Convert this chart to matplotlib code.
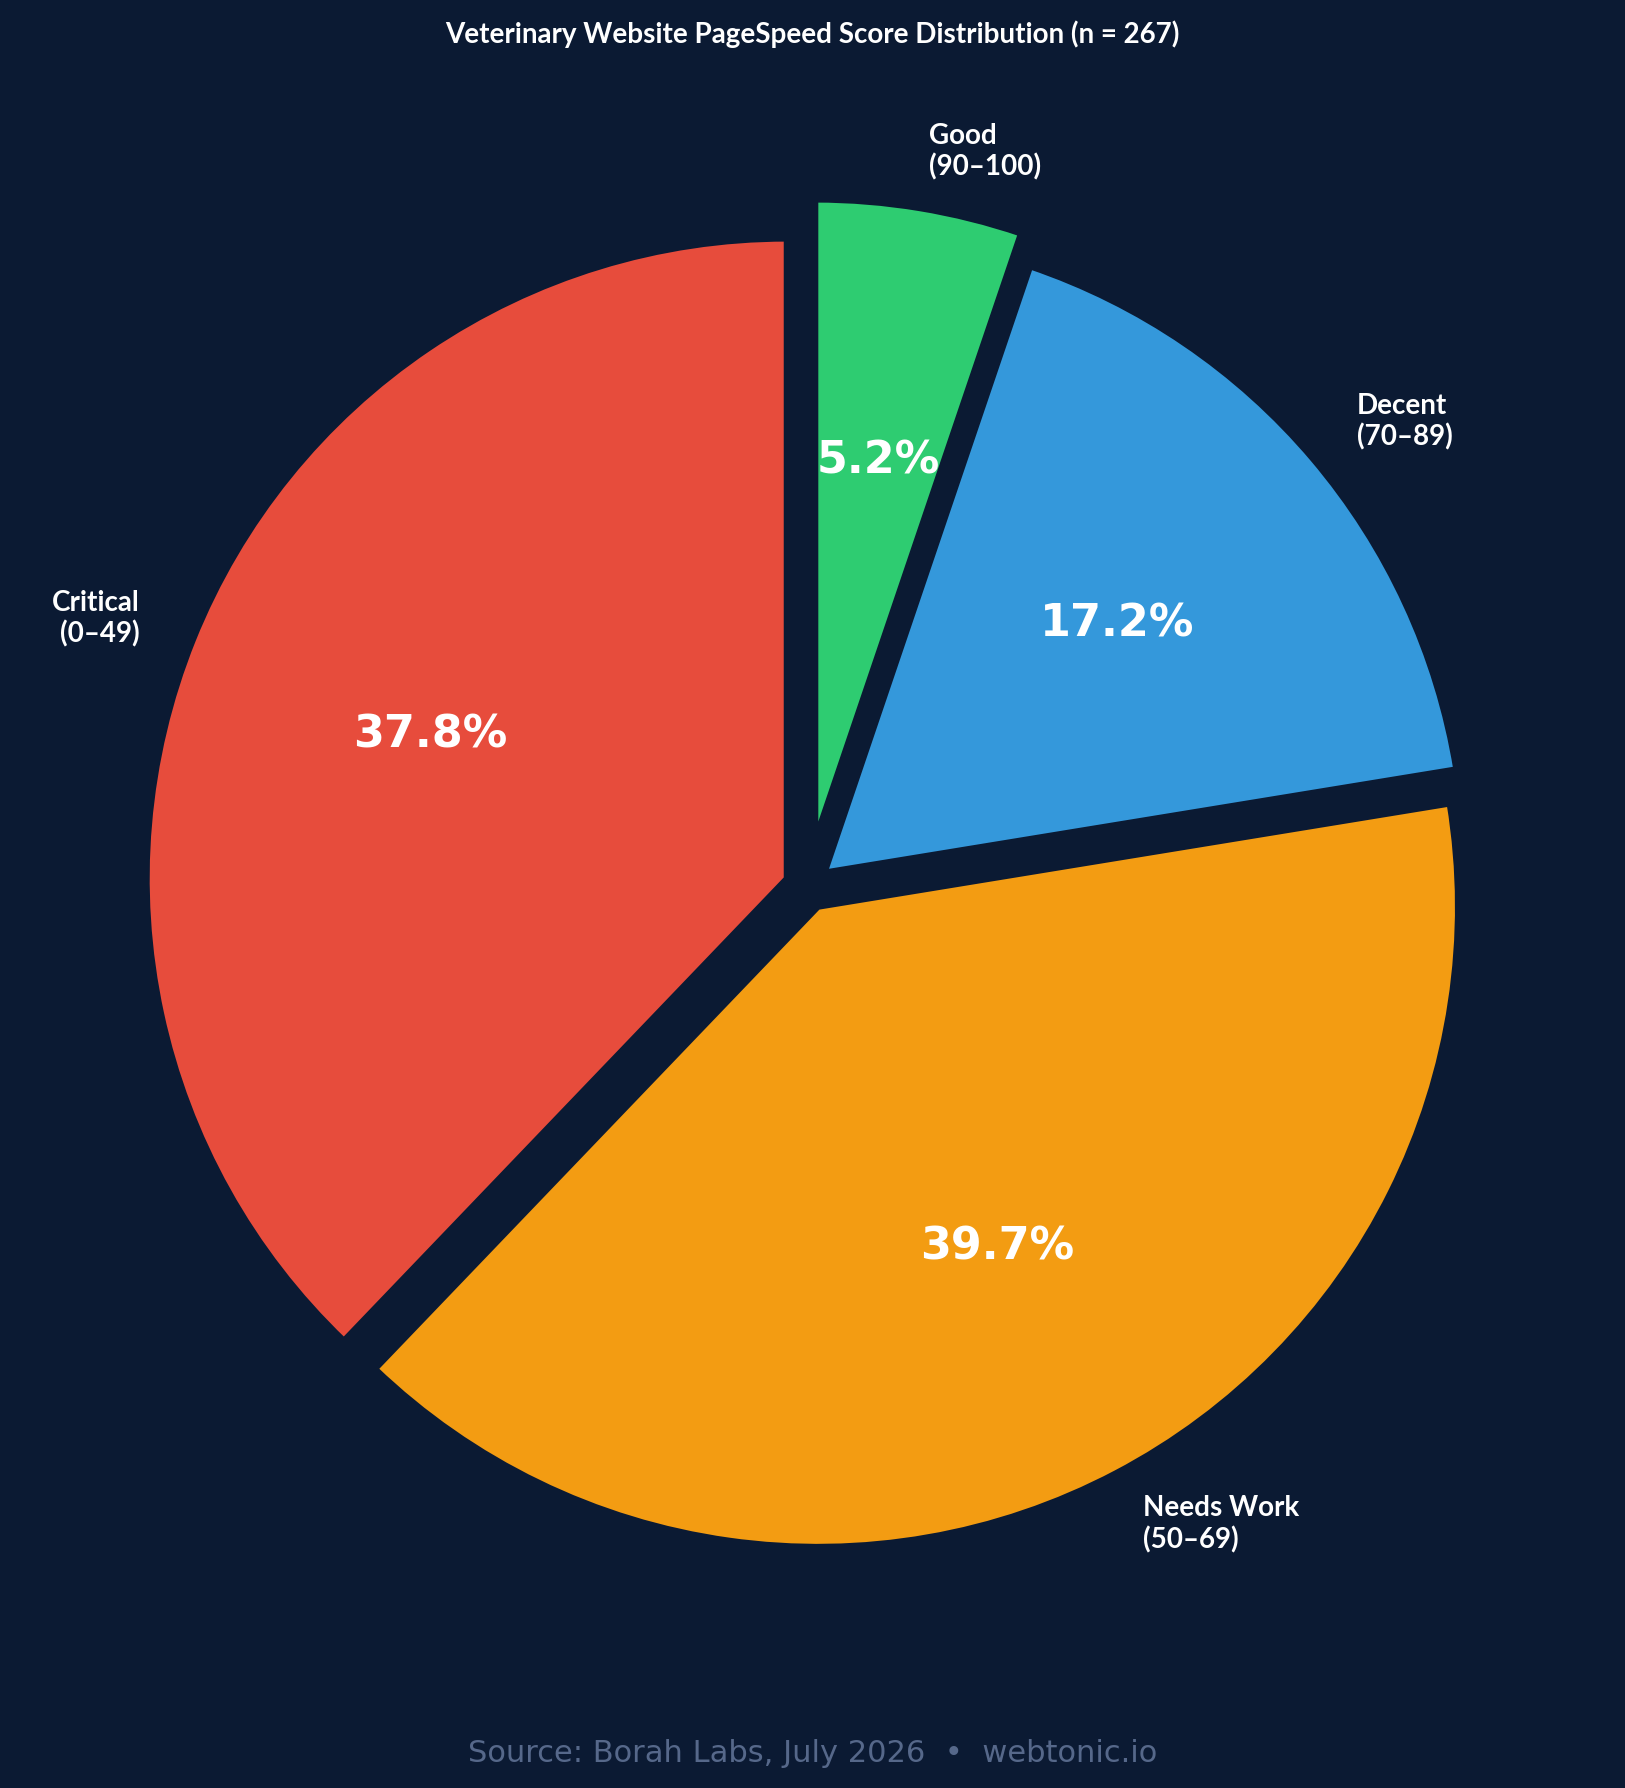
import matplotlib.pyplot as plt

# data
categories = ['Critical\n(0–49)', 'Needs Work\n(50–69)', 'Decent\n(70–89)', 'Good\n(90–100)']
shares = [37.8, 39.7, 17.2, 5.2]
colors = ['#e74c3c', '#f39c12', '#3498db', '#2ecc71']
explode = [0.035, 0.035, 0.035, 0.075]

BG = '#0b1a33'

fig = plt.figure(figsize=(16.25, 17.88), dpi=100, facecolor=BG)
ax = fig.add_axes([0, 0, 1, 1])
ax.set_facecolor(BG)

wedges, texts, autotexts = ax.pie(
    shares, labels=categories, colors=colors, explode=explode,
    startangle=90, counterclock=True, autopct='%1.1f%%',
    pctdistance=0.6, labeldistance=1.09,
    wedgeprops=dict(edgecolor=BG, linewidth=4.3),
    textprops=dict(color='white'))

for t in texts:
    t.set_fontfamily('Lato')
    t.set_fontweight('bold')
    t.set_fontsize(20)
for t in autotexts:
    t.set_fontfamily('DejaVu Sans')
    t.set_fontweight('bold')
    t.set_fontsize(32)
    t.set_color('white')

# place the pie: ~640 px radius, centre near (807, 887) px
ax.set_xlim(-1.2617, 1.2773)
ax.set_ylim(-1.4078, 1.3859)
ax.set_aspect('auto')

fig.text(0.5, 0.981, 'Veterinary Website PageSpeed Score Distribution (n = 267)',
         ha='center', va='center', color='white', fontsize=20,
         fontfamily='Lato', fontweight='bold')
fig.text(0.5, 0.0195, 'Source: Borah Labs, July 2026  •  webtonic.io',
         ha='center', va='center', color='#56688a', fontsize=22,
         fontfamily='DejaVu Sans')

plt.savefig('out.png', dpi=100, facecolor=BG)
